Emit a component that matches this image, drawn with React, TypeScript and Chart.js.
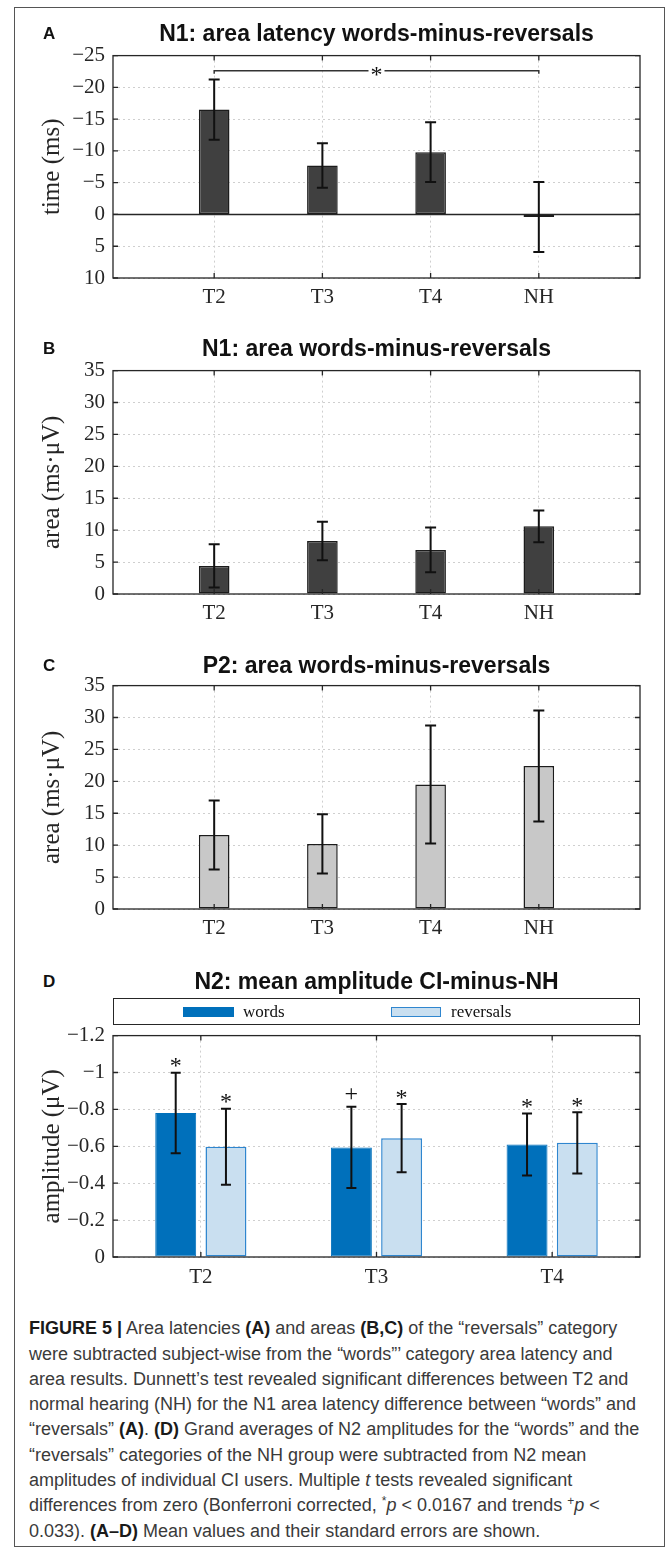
import React, { useEffect, useRef } from 'react';
import { Chart, registerables } from 'chart.js';

Chart.register(...registerables);

// ---------------- data ----------------
const groups = ['T2', 'T3', 'T4', 'NH'];
const groupPositions = [1, 2, 3, 4];

const latencyMean = [-16.5, -7.7, -9.8, 0.4];
const latencyErr = [4.75, 3.5, 4.7, 5.5];
const latencyTicks = [-25, -20, -15, -10, -5, 0, 5, 10];
const latencyBracketFrom = 1;
const latencyBracketTo = 4;
const latencyBracketValue = -22.6;
const latencyBracketLabel = '*';

const n1AreaMean = [4.4, 8.3, 6.9, 10.6];
const n1AreaErr = [3.4, 3.0, 3.5, 2.5];

const p2AreaMean = [11.6, 10.2, 19.5, 22.4];
const p2AreaErr = [5.4, 4.65, 9.25, 8.7];
const areaTicks = [0, 5, 10, 15, 20, 25, 30, 35];

const ciGroups = ['T2', 'T3', 'T4'];
const wordsMean = [-0.78, -0.594, -0.61];
const wordsErr = [0.218, 0.22, 0.168];
const wordsSig = ['*', '+', '*'];
const reversalsMean = [-0.597, -0.644, -0.619];
const reversalsErr = [0.206, 0.185, 0.166];
const reversalsSig = ['*', '*', '*'];
const amplitudeTicks = [-1.2, -1, -0.8, -0.6, -0.4, -0.2, 0];

// ---------------- styles ----------------
const SERIF = "'Liberation Serif', 'Times New Roman', serif";
const SANS = "'Liberation Sans', Arial, sans-serif";
const AXIS_COLOR = '#262626';
const GRID_COLOR = '#cfcfcf';
const WORDS_COLOR = '#0070bb';
const REV_FILL = '#c9dff0';
const REV_EDGE = '#2f86cf';

const fmt = (v: number) => {
  const r = Math.round(v * 10) / 10;
  return r < 0 ? '\u2212' + String(Math.abs(r)) : String(r);
};

// MATLAB-like box with inward ticks
const boxPlugin = {
  id: 'matlabBox',
  afterDraw(chart: any) {
    const { ctx, chartArea: a, scales } = chart;
    const xs = scales.x;
    const ys = scales.y;
    ctx.save();
    ctx.strokeStyle = AXIS_COLOR;
    ctx.lineWidth = 1.3;
    ctx.strokeRect(a.left, a.top, a.right - a.left, a.bottom - a.top);
    const tl = 5;
    ctx.beginPath();
    ys.ticks.forEach((t: any, i: number) => {
      const p = ys.getPixelForTick(i);
      ctx.moveTo(a.left, p);
      ctx.lineTo(a.left + tl, p);
      ctx.moveTo(a.right, p);
      ctx.lineTo(a.right - tl, p);
    });
    xs.ticks.forEach((t: any, i: number) => {
      const p = xs.getPixelForTick(i);
      ctx.moveTo(p, a.top);
      ctx.lineTo(p, a.top + tl);
      ctx.moveTo(p, a.bottom);
      ctx.lineTo(p, a.bottom - tl);
    });
    ctx.stroke();
    ctx.restore();
  },
};

function drawErrors(chart: any, dsIndex: number, mean: number[], err: number[], cap: number) {
  const { ctx } = chart;
  const ys = chart.scales.y;
  const meta = chart.getDatasetMeta(dsIndex);
  ctx.save();
  ctx.strokeStyle = '#111';
  ctx.lineWidth = 2;
  ctx.beginPath();
  meta.data.forEach((bar: any, i: number) => {
    const x = bar.x;
    const y1 = ys.getPixelForValue(mean[i] - err[i]);
    const y2 = ys.getPixelForValue(mean[i] + err[i]);
    ctx.moveTo(x, y1);
    ctx.lineTo(x, y2);
    ctx.moveTo(x - cap / 2, y1);
    ctx.lineTo(x + cap / 2, y1);
    ctx.moveTo(x - cap / 2, y2);
    ctx.lineTo(x + cap / 2, y2);
  });
  ctx.stroke();
  ctx.restore();
}

function drawSig(chart: any, dsIndex: number, mean: number[], err: number[], sig: string[]) {
  const { ctx } = chart;
  const ys = chart.scales.y;
  const meta = chart.getDatasetMeta(dsIndex);
  ctx.save();
  ctx.fillStyle = '#111';
  ctx.textAlign = 'center';
  ctx.textBaseline = 'alphabetic';
  ctx.font = `24px ${SERIF}`;
  meta.data.forEach((bar: any, i: number) => {
    const top = ys.getPixelForValue(mean[i] - err[i]);
    const s = sig[i];
    const base = s === '+' ? top - 5.5 : top + 0.5;
    ctx.fillText(s, bar.x, base);
  });
  ctx.restore();
}

function makeSingleConfig(
  mean: number[],
  err: number[],
  ticks: number[],
  reverse: boolean,
  fill: string,
  yTitle: string,
  extra: 'latency' | 'none'
) {
  const overlay = {
    id: 'overlay',
    afterDatasetsDraw(chart: any) {
      const { ctx, chartArea: a } = chart;
      const xs = chart.scales.x;
      const ys = chart.scales.y;
      if (extra === 'latency') {
        const y0 = ys.getPixelForValue(0);
        ctx.save();
        ctx.strokeStyle = AXIS_COLOR;
        ctx.lineWidth = 1.5;
        ctx.beginPath();
        ctx.moveTo(a.left, y0);
        ctx.lineTo(a.right, y0);
        ctx.stroke();
        ctx.restore();
      }
      drawErrors(chart, 0, mean, err, 11);
      if (extra === 'latency') {
        const yb = ys.getPixelForValue(latencyBracketValue);
        const x1 = xs.getPixelForValue(latencyBracketFrom);
        const x2 = xs.getPixelForValue(latencyBracketTo);
        const mid = (x1 + x2) / 2;
        ctx.save();
        ctx.strokeStyle = '#333';
        ctx.lineWidth = 1.5;
        ctx.beginPath();
        ctx.moveTo(x1, yb + 3);
        ctx.lineTo(x1, yb);
        ctx.lineTo(mid - 8, yb);
        ctx.moveTo(mid + 8, yb);
        ctx.lineTo(x2, yb);
        ctx.lineTo(x2, yb + 3);
        ctx.stroke();
        ctx.fillStyle = '#111';
        ctx.font = `24px ${SERIF}`;
        ctx.textAlign = 'center';
        ctx.textBaseline = 'alphabetic';
        ctx.fillText(latencyBracketLabel, mid, yb + 11);
        ctx.restore();
      }
    },
  };
  return {
    type: 'bar',
    data: {
      datasets: [
        {
          data: groupPositions.map((x, i) => ({ x, y: mean[i] })),
          backgroundColor: fill,
          borderColor: '#1c1c1c',
          borderWidth: 1.5,
          borderSkipped: false,
          categoryPercentage: 1,
          barPercentage: 0.283,
        },
      ],
    },
    options: {
      responsive: false,
      animation: false,
      events: [],
      layout: { padding: { left: 0, right: 29, top: 20, bottom: 0 } },
      plugins: { legend: { display: false }, tooltip: { enabled: false }, title: { display: false } },
      scales: {
        x: {
          type: 'linear',
          min: 0.065,
          max: 4.935,
          offset: false,
          afterBuildTicks: (s: any) => {
            s.ticks = groupPositions.map((v) => ({ value: v }));
          },
          afterFit: (s: any) => {
            s.height = 55;
          },
          ticks: {
            autoSkip: false,
            maxRotation: 0,
            padding: 7,
            color: AXIS_COLOR,
            font: { family: SERIF, size: 21 },
            callback: (v: number) => groups[groupPositions.indexOf(v)] ?? '',
          },
          grid: { color: GRID_COLOR, drawTicks: false, offset: false, lineWidth: 1 },
          border: { display: false, dash: [2, 3] },
        },
        y: {
          type: 'linear',
          min: ticks[0],
          max: ticks[ticks.length - 1],
          reverse,
          afterBuildTicks: (s: any) => {
            s.ticks = ticks.map((v) => ({ value: v }));
          },
          afterFit: (s: any) => {
            s.width = 113;
          },
          ticks: {
            padding: 8,
            color: AXIS_COLOR,
            font: { family: SERIF, size: 21 },
            callback: (v: number) => fmt(v),
          },
          title: {
            display: true,
            text: yTitle,
            color: AXIS_COLOR,
            font: { family: SERIF, size: 25 },
            padding: { top: 37, bottom: 0 },
          },
          grid: { color: GRID_COLOR, drawTicks: false, lineWidth: 1 },
          border: { display: false, dash: [2, 3] },
        },
      },
    },
    plugins: [overlay, boxPlugin],
  };
}

function makeGroupedConfig() {
  const overlay = {
    id: 'overlayD',
    afterDatasetsDraw(chart: any) {
      drawErrors(chart, 0, wordsMean, wordsErr, 10);
      drawErrors(chart, 1, reversalsMean, reversalsErr, 10);
      drawSig(chart, 0, wordsMean, wordsErr, wordsSig);
      drawSig(chart, 1, reversalsMean, reversalsErr, reversalsSig);
    },
  };
  return {
    type: 'bar',
    data: {
      labels: ciGroups,
      datasets: [
        {
          label: 'words',
          data: wordsMean,
          backgroundColor: WORDS_COLOR,
          borderColor: WORDS_COLOR,
          borderWidth: 1,
          borderSkipped: false,
          categoryPercentage: 0.572,
          barPercentage: 0.815,
        },
        {
          label: 'reversals',
          data: reversalsMean,
          backgroundColor: REV_FILL,
          borderColor: REV_EDGE,
          borderWidth: 1.5,
          borderSkipped: false,
          categoryPercentage: 0.572,
          barPercentage: 0.815,
        },
      ],
    },
    options: {
      responsive: false,
      animation: false,
      events: [],
      layout: { padding: { left: 0, right: 29, top: 20, bottom: 0 } },
      plugins: { legend: { display: false }, tooltip: { enabled: false }, title: { display: false } },
      scales: {
        x: {
          type: 'category',
          offset: true,
          afterFit: (s: any) => {
            s.height = 55;
          },
          ticks: {
            autoSkip: false,
            maxRotation: 0,
            padding: 8,
            color: AXIS_COLOR,
            font: { family: SERIF, size: 21 },
          },
          grid: { color: GRID_COLOR, drawTicks: false, offset: false, lineWidth: 1 },
          border: { display: false, dash: [2, 3] },
        },
        y: {
          type: 'linear',
          min: amplitudeTicks[0],
          max: amplitudeTicks[amplitudeTicks.length - 1],
          reverse: true,
          afterBuildTicks: (s: any) => {
            s.ticks = amplitudeTicks.map((v) => ({ value: v }));
          },
          afterFit: (s: any) => {
            s.width = 113;
          },
          ticks: {
            padding: 8,
            color: AXIS_COLOR,
            font: { family: SERIF, size: 21 },
            callback: (v: number) => fmt(v),
          },
          title: {
            display: true,
            text: 'amplitude (\u03bcV)',
            color: AXIS_COLOR,
            font: { family: SERIF, size: 25 },
            padding: { top: 37, bottom: 0 },
          },
          grid: { color: GRID_COLOR, drawTicks: false, lineWidth: 1 },
          border: { display: false, dash: [2, 3] },
        },
      },
    },
    plugins: [overlay, boxPlugin],
  };
}

function ChartCanvas({ top, height, make }: { top: number; height: number; make: () => any }) {
  const ref = useRef<HTMLCanvasElement | null>(null);
  useEffect(() => {
    if (!ref.current) return;
    const chart = new Chart(ref.current, make());
    return () => chart.destroy();
  }, []);
  return (
    <canvas
      ref={ref}
      width={669}
      height={height}
      style={{ position: 'absolute', left: 0, top, width: 669, height }}
    />
  );
}

const abs = (s: React.CSSProperties): React.CSSProperties => ({ position: 'absolute', ...s });

function PanelTitle({ top, letter, text }: { top: number; letter: string; text: string }) {
  return (
    <>
      <div style={abs({ left: 43, top: top + 3, fontFamily: SANS, fontWeight: 700, fontSize: 17, lineHeight: 1, color: '#111' })}>
        {letter}
      </div>
      <div
        style={abs({
          left: 113,
          width: 527,
          top,
          textAlign: 'center',
          fontFamily: SANS,
          fontWeight: 700,
          fontSize: 23,
          lineHeight: 1,
          color: '#111',
          whiteSpace: 'nowrap',
        })}
      >
        {text}
      </div>
    </>
  );
}

const B = ({ children }: { children: React.ReactNode }) => <b style={{ color: '#1a1a1a' }}>{children}</b>;
const Sup = ({ children }: { children: React.ReactNode }) => (
  <span style={{ fontSize: 12, position: 'relative', top: -6, lineHeight: 0 }}>{children}</span>
);

export default function App() {
  return (
    <div style={abs({ left: 0, top: 0, width: 669, height: 1548, background: '#fff', overflow: 'hidden' })}>
      <div style={abs({ left: 14, top: 7, width: 651, height: 1540, border: '1px solid #555', boxSizing: 'border-box' })} />

      <ChartCanvas
        top={35}
        height={298}
        make={() => makeSingleConfig(latencyMean, latencyErr, latencyTicks, true, '#404040', 'time (ms)', 'latency')}
      />
      <ChartCanvas
        top={350}
        height={299}
        make={() => makeSingleConfig(n1AreaMean, n1AreaErr, areaTicks, false, '#404040', 'area (ms\u00b7\u03bcV)', 'none')}
      />
      <ChartCanvas
        top={665}
        height={299}
        make={() => makeSingleConfig(p2AreaMean, p2AreaErr, areaTicks, false, '#c8c8c8', 'area (ms\u00b7\u03bcV)', 'none')}
      />
      <ChartCanvas top={1015} height={297} make={makeGroupedConfig} />

      <PanelTitle top={22} letter="A" text="N1: area latency words-minus-reversals" />
      <PanelTitle top={337} letter="B" text="N1: area words-minus-reversals" />
      <PanelTitle top={653.7} letter="C" text="P2: area words-minus-reversals" />
      <PanelTitle top={970.4} letter="D" text="N2: mean amplitude CI-minus-NH" />

      {/* legend of panel D */}
      <div style={abs({ left: 113, top: 998, width: 527, height: 27, border: `1.3px solid ${AXIS_COLOR}`, boxSizing: 'border-box', background: '#fff' })} />
      <div style={abs({ left: 183, top: 1007, width: 51, height: 10, background: WORDS_COLOR })} />
      <div style={abs({ left: 243, top: 1002.8, fontFamily: SERIF, fontSize: 17, lineHeight: 1, color: '#111' })}>words</div>
      <div style={abs({ left: 391, top: 1007, width: 50, height: 10, background: REV_FILL, border: `1.5px solid ${REV_EDGE}`, boxSizing: 'border-box' })} />
      <div style={abs({ left: 451, top: 1002.8, fontFamily: SERIF, fontSize: 17, lineHeight: 1, color: '#111' })}>reversals</div>

      {/* caption */}
      <div
        style={abs({
          left: 29,
          top: 1316.3,
          fontFamily: SANS,
          fontSize: 18,
          lineHeight: '25.3px',
          color: '#3a3a3a',
          whiteSpace: 'nowrap',
        })}
      >
        <div>
          <B>FIGURE 5 |</B> Area latencies <B>(A)</B> and areas <B>(B,C)</B> of the “reversals” category
        </div>
        <div>were subtracted subject-wise from the “words”’ category area latency and</div>
        <div>area results. Dunnett’s test revealed significant differences between T2 and</div>
        <div>normal hearing (NH) for the N1 area latency difference between “words” and</div>
        <div>
          “reversals” <B>(A)</B>. <B>(D)</B> Grand averages of N2 amplitudes for the “words” and the
        </div>
        <div>“reversals” categories of the NH group were subtracted from N2 mean</div>
        <div>
          amplitudes of individual CI users. Multiple <i>t</i> tests revealed significant
        </div>
        <div>
          differences from zero (Bonferroni corrected, <Sup>*</Sup>
          <i>p</i> &lt; 0.0167 and trends <Sup>+</Sup>
          <i>p</i> &lt;
        </div>
        <div>
          0.033). <B>(A–D)</B> Mean values and their standard errors are shown.
        </div>
      </div>
    </div>
  );
}
